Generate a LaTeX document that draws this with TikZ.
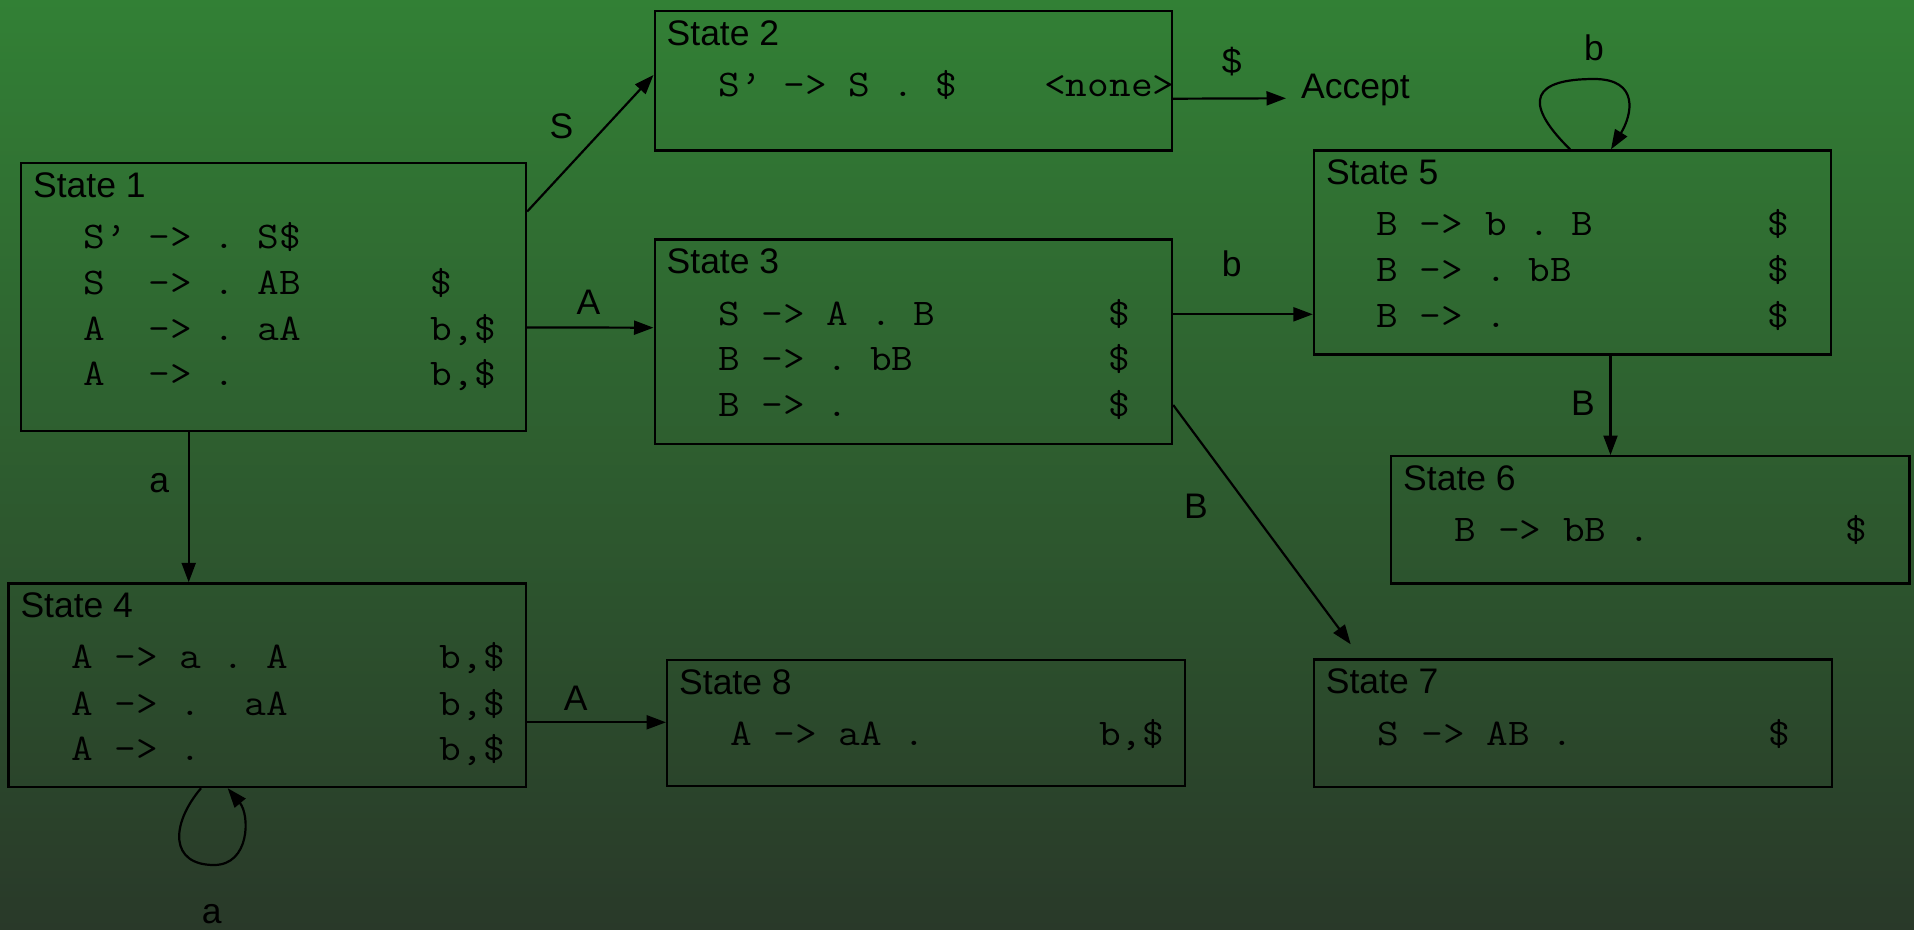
\documentclass[tikz,border=0pt]{standalone}
\usepackage{fontspec}
\setmainfont{Liberation Sans}
\setmonofont{Latin Modern Mono}[FakeStretch=1.12]
\usetikzlibrary{arrows.meta,calc}
\frenchspacing
\newlength\chw
\settowidth\chw{\ttfamily\fontsize{40}{48}\selectfont M}
\pgfmathsetmacro\ttsz{40*21.7/\chw}
\definecolor{bgtop}{RGB}{50,128,53}
\definecolor{bgbot}{RGB}{41,57,41}
\begin{document}
\begin{tikzpicture}[x=1pt,y=-1pt,
  box/.style={draw=black,line width=2.2pt,rectangle,inner sep=0pt,anchor=north west},
  ttl/.style={font=\fontsize{35.5}{42}\selectfont,inner sep=0pt,anchor=base west},
  row/.style={font=\ttfamily\fontsize{\ttsz}{50}\selectfont,inner sep=0pt,anchor=base west},
  lbl/.style={font=\fontsize{35.5}{42}\selectfont,inner sep=0pt,anchor=base},
  arr/.style={line width=2.2pt,-{Triangle[length=19.5pt,width=14pt]}}]
\useasboundingbox (0,0) rectangle (1914,929);
\shade[top color=bgtop,bottom color=bgbot] (0,0) rectangle (1914,929);

% boxes
\node[box,minimum width=505pt,minimum height=268pt] (s1) at (20,162) {};
\node[box,minimum width=517.5pt,minimum height=139.3pt] (s2) at (653.5,10) {};
\node[box,minimum width=517.5pt,minimum height=204.4pt] (s3) at (653.5,238.3) {};
\node[box,minimum width=517.2pt,minimum height=203.7pt] (s4) at (7.3,582.3) {};
\node[box,minimum width=516.7pt,minimum height=204pt] (s5) at (1312.8,149.3) {};
\node[box,minimum width=518.3pt,minimum height=127.3pt] (s6) at (1390,455) {};
\node[box,minimum width=518pt,minimum height=127.7pt] (s7) at (1312.7,658.3) {};
\node[box,minimum width=518pt,minimum height=126pt] (s8) at (666,659) {};

% titles
\node[ttl] (t1) at ($(s1.north west)+(13,35.6)$) {State 1};
\node[ttl] (t2) at ($(s2.north west)+(13,35.3)$) {State 2};
\node[ttl] (t3) at ($(s3.north west)+(13,35.3)$) {State 3};
\node[ttl] (t4) at ($(s4.north west)+(13,35.3)$) {State 4};
\node[ttl] (t5) at ($(s5.north west)+(13,35.3)$) {State 5};
\node[ttl] (t6) at ($(s6.north west)+(13,35.3)$) {State 6};
\node[ttl] (t7) at ($(s7.north west)+(13,35.3)$) {State 7};
\node[ttl] (t8) at ($(s8.north west)+(13,35.3)$) {State 8};

% items
\node[row] (r11) at ($(s1.north west)+(63.5,86.8)$) {S’~->~.~S\$};
\node[row] (r12) at ($(s1.north west)+(63.5,132.5)$) {S~~->~.~AB~~~~~~\$};
\node[row] (r13) at ($(s1.north west)+(63.5,178.2)$) {A~~->~.~aA~~~~~~b,\$};
\node[row] (r14) at ($(s1.north west)+(63.5,223.9)$) {A~~->~.~~~~~~~~~b,\$};

\node[row] (r21) at ($(s2.north west)+(65,86.7)$) {S’~->~S~.~\$~~~~<none>};

\node[row] (r31) at ($(s3.north west)+(64.5,86.7)$) {S~->~A~.~B~~~~~~~~\$};
\node[row] (r32) at ($(s3.north west)+(64.5,132.4)$) {B~->~.~bB~~~~~~~~~\$};
\node[row] (r33) at ($(s3.north west)+(64.5,178.4)$) {B~->~.~~~~~~~~~~~~\$};

\node[row] (r41) at ($(s4.north west)+(63.5,86)$) {A~->~a~.~A~~~~~~~b,\$};
\node[row] (r42) at ($(s4.north west)+(63.5,132.7)$) {A~->~.~~aA~~~~~~~b,\$};
\node[row] (r43) at ($(s4.north west)+(63.5,178.4)$) {A~->~.~~~~~~~~~~~b,\$};

\node[row] (r51) at ($(s5.north west)+(63.5,85.7)$) {B~->~b~.~B~~~~~~~~\$};
\node[row] (r52) at ($(s5.north west)+(63.5,132.4)$) {B~->~.~bB~~~~~~~~~\$};
\node[row] (r53) at ($(s5.north west)+(63.5,178)$) {B~->~.~~~~~~~~~~~~\$};

\node[row] (r61) at ($(s6.north west)+(64.5,86.5)$) {B~->~bB~.~~~~~~~~~\$};
\node[row] (r71) at ($(s7.north west)+(65,86.7)$) {S~->~AB~.~~~~~~~~~\$};
\node[row] (r81) at ($(s8.north west)+(64,86)$) {A~->~aA~.~~~~~~~~b,\$};

% accept
\node[ttl] (acc) at (1301,98.5) {Accept};

% connectors
\draw[arr] ([yshift=-49.5pt]s1.north east) -- ([yshift=-65pt]s2.north west);
\draw[arr] ([yshift=-165.4pt]s1.north east) -- ([yshift=-89.4pt]s3.north west);
\draw[arr] ([yshift=-88.7pt]s2.north east) -- ([xshift=-15pt,yshift=0.2pt]acc.base west);
\draw[arr] ([yshift=-76pt]s3.north east) -- ([yshift=-165pt]s5.north west);
\draw[arr] ([yshift=-166.7pt]s3.north east) -- ([xshift=38pt,yshift=14pt]s7.north west);
\draw[arr] ([xshift=297.7pt]s5.south west) -- ([xshift=220.5pt]s6.north west);
\draw[arr] ([xshift=168.7pt]s1.south west) -- ([xshift=181.4pt]s4.north west);
\draw[arr] ([yshift=-140pt]s4.north east) -- ([yshift=-63.3pt]s8.north west);

% self loops
\coordinate (l5a) at ([xshift=257.2pt]s5.north west);
\coordinate (l5b) at ([xshift=298.2pt]s5.north west);
\draw[arr] (l5a) .. controls (1520,100) and (1535,79) .. (1594,79)
  .. controls (1640,79) and (1632,115) .. (l5b);
\coordinate (l4a) at ([xshift=193.7pt]s4.south west);
\coordinate (l4b) at ([xshift=220.4pt]s4.south west);
\draw[arr] (l4a) .. controls (170,825) and (170,865) .. (214,865)
  .. controls (250,865) and (250,815) .. (l4b);

% labels
\node[lbl] (lS) at (561.5,138) {S};
\node[lbl] (lA1) at (588.4,314) {A};
\node[lbl] (lD) at (1231.7,73.5) {\$};
\node[lbl] (lb1) at (1231.7,276) {b};
\node[lbl] (lb2) at (1594,60) {b};
\node[lbl] (lB1) at (1196,518.3) {B};
\node[lbl] (lB2) at (1583,415) {B};
\node[lbl] (la1) at (159.3,492.7) {a};
\node[lbl] (la2) at (211.7,923.5) {a};
\node[lbl] (lA2) at (575.7,710) {A};
\end{tikzpicture}
\end{document}
